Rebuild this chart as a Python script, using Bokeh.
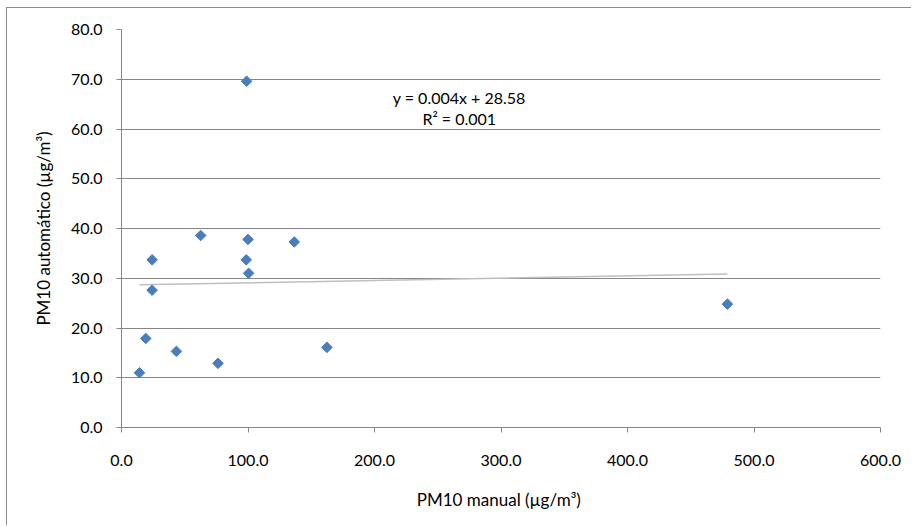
import numpy as np
from bokeh.plotting import figure
from bokeh.models import Range1d, SingleIntervalTicker, PrintfTickFormatter, Label, ColumnDataSource
from bokeh.embed import file_html
from bokeh.resources import INLINE

# Data
pm10_manual = [14.2, 19.2, 24.2, 24.2, 43.4, 62.6, 76.3, 98.9, 98.6, 100.0, 100.5, 136.6, 162.4, 479.0]
pm10_auto = [11.0, 17.9, 33.7, 27.6, 15.3, 38.6, 12.9, 69.6, 33.7, 37.8, 31.0, 37.3, 16.1, 24.8]
eq_text = "y = 0.004x + 28.58"
r2_text = "R² = 0.001"
x_label = "PM10 manual  (µg/m³)"
y_label = "PM10 automático (µg/m³)"

FONT = "Lato"
GRAY = "#868686"

p = figure(width=905, height=518, output_backend="svg", toolbar_location=None,
           x_range=Range1d(0, 600), y_range=Range1d(0, 80),
           min_border_left=114, min_border_right=32, min_border_top=21, min_border_bottom=99)
p.styles = {"border-left": "1px solid #8c8c8c", "border-top": "1px solid #8c8c8c",
            "margin-left": "6px", "margin-top": "7px"}
p.outline_line_color = None
p.background_fill_color = "white"
p.border_fill_color = "white"

p.xgrid.visible = False
p.ygrid.grid_line_color = GRAY
p.ygrid.grid_line_width = 1

p.xaxis.ticker = SingleIntervalTicker(interval=100)
p.yaxis.ticker = SingleIntervalTicker(interval=10)
for ax in (p.xaxis, p.yaxis):
    ax.formatter = PrintfTickFormatter(format="%.1f")
    ax.axis_line_color = GRAY
    ax.major_tick_line_color = GRAY
    ax.minor_tick_line_color = None
    ax.major_tick_in = 0
    ax.major_tick_out = 5
    ax.major_label_text_font = FONT
    ax.major_label_text_font_size = "16px"
    ax.major_label_text_color = "#000000"
    ax.axis_label_text_font = FONT
    ax.axis_label_text_font_size = "17px"
    ax.axis_label_text_font_style = "normal"
    ax.axis_label_text_color = "#000000"

p.xaxis.axis_label = x_label
p.yaxis.axis_label = y_label
p.xaxis.major_label_standoff = 22
p.xaxis.axis_label_standoff = 20
p.yaxis.major_label_standoff = 14
p.yaxis.axis_label_standoff = 14

src = ColumnDataSource(dict(x=pm10_manual, y=pm10_auto))

# Linear trend line (least squares) drawn from min x to max x
xa = np.array(pm10_manual)
ya = np.array(pm10_auto)
slope, intercept = np.polyfit(xa, ya, 1)
tx = [xa.min(), xa.max()]
ty = [slope * t + intercept for t in tx]
p.line(tx, ty, line_color="#bfbfbf", line_width=1.5)

p.scatter("x", "y", source=src, marker="square", angle=np.pi / 4, size=7.5,
          fill_color="#4a7ebb", line_color="#4a7ebb")

p.add_layout(Label(x=267, y=66.3, text=eq_text, text_align="center", text_baseline="middle",
                   text_font=FONT, text_font_size="16px", text_color="#000000"))
p.add_layout(Label(x=267, y=62.1, text=r2_text, text_align="center", text_baseline="middle",
                   text_font=FONT, text_font_size="16px", text_color="#000000"))

open("out.html", "w").write(file_html(p, INLINE))
